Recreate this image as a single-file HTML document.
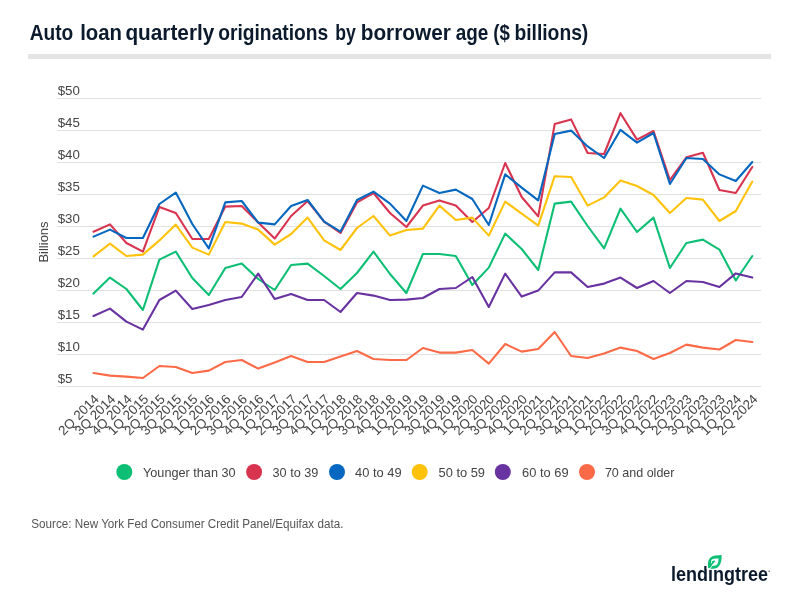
<!DOCTYPE html>
<html><head><meta charset="utf-8"><style>
html,body{margin:0;padding:0;background:#fff;}
body{width:800px;height:600px;overflow:hidden;position:relative;font-family:"Liberation Sans",Arial,sans-serif;}
svg{position:absolute;left:0;top:0;}
</style></head><body>
<svg width="800" height="600" viewBox="0 0 800 600">
<g font-family="Liberation Sans, sans-serif" font-weight="bold" font-size="21.5" fill="#0b1a2c"><text x="29.70" y="40" textLength="43.60" lengthAdjust="spacingAndGlyphs">Auto</text><text x="80.20" y="40" textLength="41.85" lengthAdjust="spacingAndGlyphs">loan</text><text x="125.45" y="40" textLength="88.85" lengthAdjust="spacingAndGlyphs">quarterly</text><text x="218.20" y="40" textLength="110.10" lengthAdjust="spacingAndGlyphs">originations</text><text x="335.20" y="40" textLength="20.60" lengthAdjust="spacingAndGlyphs">by</text><text x="360.70" y="40" textLength="90.10" lengthAdjust="spacingAndGlyphs">borrower</text><text x="455.70" y="40" textLength="32.60" lengthAdjust="spacingAndGlyphs">age</text><text x="493.20" y="40" textLength="16.60" lengthAdjust="spacingAndGlyphs">($</text><text x="514.45" y="40" textLength="73.85" lengthAdjust="spacingAndGlyphs">billions)</text></g>
<rect x="28" y="54" width="743" height="5" fill="#e4e4e4"/>
<g stroke="#e0e0e0" stroke-width="1"><line x1="57" x2="761" y1="98.5" y2="98.5"/><line x1="57" x2="761" y1="130.5" y2="130.5"/><line x1="57" x2="761" y1="162.5" y2="162.5"/><line x1="57" x2="761" y1="194.5" y2="194.5"/><line x1="57" x2="761" y1="226.5" y2="226.5"/><line x1="57" x2="761" y1="258.5" y2="258.5"/><line x1="57" x2="761" y1="290.5" y2="290.5"/><line x1="57" x2="761" y1="322.5" y2="322.5"/><line x1="57" x2="761" y1="354.5" y2="354.5"/><line x1="57" x2="761" y1="386.5" y2="386.5"/></g>
<g font-family="Liberation Sans, sans-serif" font-size="13.3" fill="#444"><text x="57.7" y="94.8">$50</text><text x="57.7" y="126.8">$45</text><text x="57.7" y="158.8">$40</text><text x="57.7" y="190.8">$35</text><text x="57.7" y="222.8">$30</text><text x="57.7" y="254.8">$25</text><text x="57.7" y="286.8">$20</text><text x="57.7" y="318.8">$15</text><text x="57.7" y="350.8">$10</text><text x="57.7" y="382.8">$5</text></g>
<text transform="translate(48,242) rotate(-90)" text-anchor="middle" font-family="Liberation Sans, sans-serif" font-size="13" fill="#444">Billions</text>
<g font-family="Liberation Sans, sans-serif" font-size="13.3" fill="#444" text-anchor="end"><text transform="translate(99.8,399.9) rotate(-45)">2Q 2014</text><text transform="translate(116.3,399.9) rotate(-45)">3Q 2014</text><text transform="translate(132.7,399.9) rotate(-45)">4Q 2014</text><text transform="translate(149.2,399.9) rotate(-45)">1Q 2015</text><text transform="translate(165.7,399.9) rotate(-45)">2Q 2015</text><text transform="translate(182.2,399.9) rotate(-45)">3Q 2015</text><text transform="translate(198.6,399.9) rotate(-45)">4Q 2015</text><text transform="translate(215.1,399.9) rotate(-45)">1Q 2016</text><text transform="translate(231.6,399.9) rotate(-45)">2Q 2016</text><text transform="translate(248.0,399.9) rotate(-45)">3Q 2016</text><text transform="translate(264.5,399.9) rotate(-45)">4Q 2016</text><text transform="translate(281.0,399.9) rotate(-45)">1Q 2017</text><text transform="translate(297.4,399.9) rotate(-45)">2Q 2017</text><text transform="translate(313.9,399.9) rotate(-45)">3Q 2017</text><text transform="translate(330.4,399.9) rotate(-45)">4Q 2017</text><text transform="translate(346.8,399.9) rotate(-45)">1Q 2018</text><text transform="translate(363.3,399.9) rotate(-45)">2Q 2018</text><text transform="translate(379.8,399.9) rotate(-45)">3Q 2018</text><text transform="translate(396.3,399.9) rotate(-45)">4Q 2018</text><text transform="translate(412.7,399.9) rotate(-45)">1Q 2019</text><text transform="translate(429.2,399.9) rotate(-45)">2Q 2019</text><text transform="translate(445.7,399.9) rotate(-45)">3Q 2019</text><text transform="translate(462.1,399.9) rotate(-45)">4Q 2019</text><text transform="translate(478.6,399.9) rotate(-45)">1Q 2020</text><text transform="translate(495.1,399.9) rotate(-45)">2Q 2020</text><text transform="translate(511.6,399.9) rotate(-45)">3Q 2020</text><text transform="translate(528.0,399.9) rotate(-45)">4Q 2020</text><text transform="translate(544.5,399.9) rotate(-45)">1Q 2021</text><text transform="translate(561.0,399.9) rotate(-45)">2Q 2021</text><text transform="translate(577.4,399.9) rotate(-45)">3Q 2021</text><text transform="translate(593.9,399.9) rotate(-45)">4Q 2021</text><text transform="translate(610.4,399.9) rotate(-45)">1Q 2022</text><text transform="translate(626.8,399.9) rotate(-45)">2Q 2022</text><text transform="translate(643.3,399.9) rotate(-45)">3Q 2022</text><text transform="translate(659.8,399.9) rotate(-45)">4Q 2022</text><text transform="translate(676.2,399.9) rotate(-45)">1Q 2023</text><text transform="translate(692.7,399.9) rotate(-45)">2Q 2023</text><text transform="translate(709.2,399.9) rotate(-45)">3Q 2023</text><text transform="translate(725.7,399.9) rotate(-45)">4Q 2023</text><text transform="translate(742.1,399.9) rotate(-45)">1Q 2024</text><text transform="translate(758.6,399.9) rotate(-45)">2Q 2024</text></g>
<g fill="none" stroke-width="2.1" stroke-linejoin="round" stroke-linecap="round">
<polyline points="93.5,293.6 110.0,277.6 126.4,289.0 142.9,310.0 159.4,259.6 175.8,251.6 192.3,278.0 208.8,295.0 225.3,268.0 241.7,263.6 258.2,279.0 274.7,290.0 291.1,265.0 307.6,263.6 324.1,276.0 340.5,289.0 357.0,273.0 373.5,251.6 390.0,274.0 406.4,293.0 422.9,254.0 439.4,254.0 455.8,256.0 472.3,285.0 488.8,267.6 505.2,233.6 521.7,249.0 538.2,270.0 554.7,203.6 571.1,201.6 587.6,226.0 604.1,248.4 620.5,208.6 637.0,232.0 653.5,217.6 669.9,268.0 686.4,243.0 702.9,239.6 719.4,249.6 735.8,280.5 752.3,256.0" stroke="#0dbf74"/>
<polyline points="93.5,231.7 110.0,224.4 126.4,243.0 142.9,251.6 159.4,207.0 175.8,213.0 192.3,239.0 208.8,239.0 225.3,206.6 241.7,206.0 258.2,222.4 274.7,238.6 291.1,216.0 307.6,201.0 324.1,221.6 340.5,233.0 357.0,202.4 373.5,193.0 390.0,213.0 406.4,227.0 422.9,205.6 439.4,200.4 455.8,205.6 472.3,222.0 488.8,208.0 505.2,163.0 521.7,197.0 538.2,216.4 554.7,124.1 571.1,119.4 587.6,153.0 604.1,154.0 620.5,113.2 637.0,139.6 653.5,131.0 669.9,180.0 686.4,157.3 702.9,152.8 719.4,190.0 735.8,193.0 752.3,167.0" stroke="#d9344f"/>
<polyline points="93.5,236.6 110.0,229.6 126.4,238.0 142.9,238.0 159.4,204.0 175.8,192.6 192.3,224.0 208.8,248.4 225.3,202.4 241.7,201.0 258.2,222.6 274.7,224.4 291.1,206.0 307.6,200.0 324.1,221.6 340.5,231.6 357.0,200.0 373.5,191.6 390.0,203.6 406.4,221.0 422.9,185.6 439.4,193.0 455.8,189.6 472.3,199.0 488.8,225.0 505.2,174.4 521.7,187.6 538.2,200.4 554.7,134.0 571.1,130.6 587.6,146.4 604.1,158.0 620.5,129.8 637.0,142.6 653.5,133.0 669.9,184.0 686.4,158.0 702.9,159.0 719.4,174.4 735.8,181.0 752.3,162.0" stroke="#0567bf"/>
<polyline points="93.5,256.4 110.0,243.6 126.4,256.0 142.9,254.6 159.4,240.4 175.8,224.6 192.3,247.6 208.8,254.6 225.3,222.0 241.7,223.6 258.2,229.6 274.7,244.6 291.1,234.0 307.6,217.6 324.1,240.4 340.5,250.0 357.0,228.0 373.5,216.0 390.0,235.6 406.4,230.0 422.9,228.6 439.4,205.6 455.8,220.0 472.3,217.6 488.8,235.6 505.2,201.6 521.7,213.6 538.2,225.6 554.7,176.2 571.1,177.0 587.6,205.6 604.1,197.4 620.5,180.6 637.0,186.0 653.5,195.0 669.9,213.0 686.4,198.0 702.9,199.6 719.4,221.0 735.8,211.0 752.3,181.6" stroke="#fec20b"/>
<polyline points="93.5,316.0 110.0,308.6 126.4,321.6 142.9,329.6 159.4,300.0 175.8,290.6 192.3,309.0 208.8,305.0 225.3,300.0 241.7,297.0 258.2,273.6 274.7,299.0 291.1,294.0 307.6,300.0 324.1,300.0 340.5,312.0 357.0,293.0 373.5,295.6 390.0,300.0 406.4,299.6 422.9,298.0 439.4,289.0 455.8,288.0 472.3,277.0 488.8,307.0 505.2,273.6 521.7,296.6 538.2,290.6 554.7,272.4 571.1,272.4 587.6,287.0 604.1,283.6 620.5,277.6 637.0,288.0 653.5,281.0 669.9,293.0 686.4,281.0 702.9,282.0 719.4,287.0 735.8,273.4 752.3,277.6" stroke="#6832a0"/>
<polyline points="93.5,373.0 110.0,375.6 126.4,376.6 142.9,378.0 159.4,366.0 175.8,367.0 192.3,373.0 208.8,370.6 225.3,362.0 241.7,360.0 258.2,368.6 274.7,362.4 291.1,356.0 307.6,362.0 324.1,362.0 340.5,356.4 357.0,351.0 373.5,359.0 390.0,360.0 406.4,360.0 422.9,348.0 439.4,352.6 455.8,352.6 472.3,350.0 488.8,363.6 505.2,344.0 521.7,351.6 538.2,349.0 554.7,332.0 571.1,356.0 587.6,358.0 604.1,353.6 620.5,347.6 637.0,351.0 653.5,359.0 669.9,353.0 686.4,344.6 702.9,347.6 719.4,349.5 735.8,340.0 752.3,342.0" stroke="#fd6a47"/>
</g>
<g font-family="Liberation Sans, sans-serif" font-size="13" fill="#444"><circle cx="124.3" cy="472" r="8" fill="#0dbf74"/><text x="143" y="476.6" textLength="92.6" lengthAdjust="spacingAndGlyphs">Younger than 30</text><circle cx="254.1" cy="472" r="8" fill="#d9344f"/><text x="272.5" y="476.6" textLength="45.9" lengthAdjust="spacingAndGlyphs">30 to 39</text><circle cx="337" cy="472" r="8" fill="#0567bf"/><text x="355.1" y="476.6" textLength="46.5" lengthAdjust="spacingAndGlyphs">40 to 49</text><circle cx="419.7" cy="472" r="8" fill="#fec20b"/><text x="438.5" y="476.6" textLength="46.5" lengthAdjust="spacingAndGlyphs">50 to 59</text><circle cx="502.8" cy="472" r="8" fill="#6832a0"/><text x="522.1" y="476.6" textLength="46.5" lengthAdjust="spacingAndGlyphs">60 to 69</text><circle cx="587" cy="472" r="8" fill="#fd6a47"/><text x="604.9" y="476.6" textLength="69.6" lengthAdjust="spacingAndGlyphs">70 and older</text></g>
<text x="31.3" y="528" font-family="Liberation Sans, sans-serif" font-size="12" fill="#555" textLength="312.1" lengthAdjust="spacingAndGlyphs">Source: New York Fed Consumer Credit Panel/Equifax data.</text>
<g>
<text x="671.0" y="580.9" font-family="Liberation Sans, sans-serif" font-weight="bold" font-size="20.2" fill="#0b1a2c" textLength="97" lengthAdjust="spacingAndGlyphs">lendingtree</text>
<circle cx="769.2" cy="571.2" r="0.9" fill="#8a8f96"/>
<rect x="706.6" y="564.5" width="3.6" height="4.6" fill="#fff"/>
<path d="M708.2,567.9 C707.6,563.5 707.9,559.5 710.8,557.2 C713.5,555.3 717.5,555.3 721.6,555.0 C721.8,559.5 721.2,563.6 718.9,566.3 C717.2,568.3 714.5,568.9 711.0,568.8 Z" fill="#0dbf74"/>
<path d="M710.9,563.3 C710.8,561.2 711.2,559.8 712.6,559.2 C714.2,558.5 716.4,558.4 718.5,558.2 C718.6,560.9 718.2,563.2 717.0,564.5 C716.0,565.6 714.2,565.9 711.9,565.9 Z" fill="#fff"/>
<path d="M708.6,567.4 L714.3,561.3 L711.8,562.2" stroke="#0dbf74" stroke-width="1.6" fill="none" stroke-linejoin="round"/>
<path d="M709.5,569.2 L712.1,565.9" stroke="#fff" stroke-width="0.9" fill="none"/>
</g>
</svg>
</body></html>
